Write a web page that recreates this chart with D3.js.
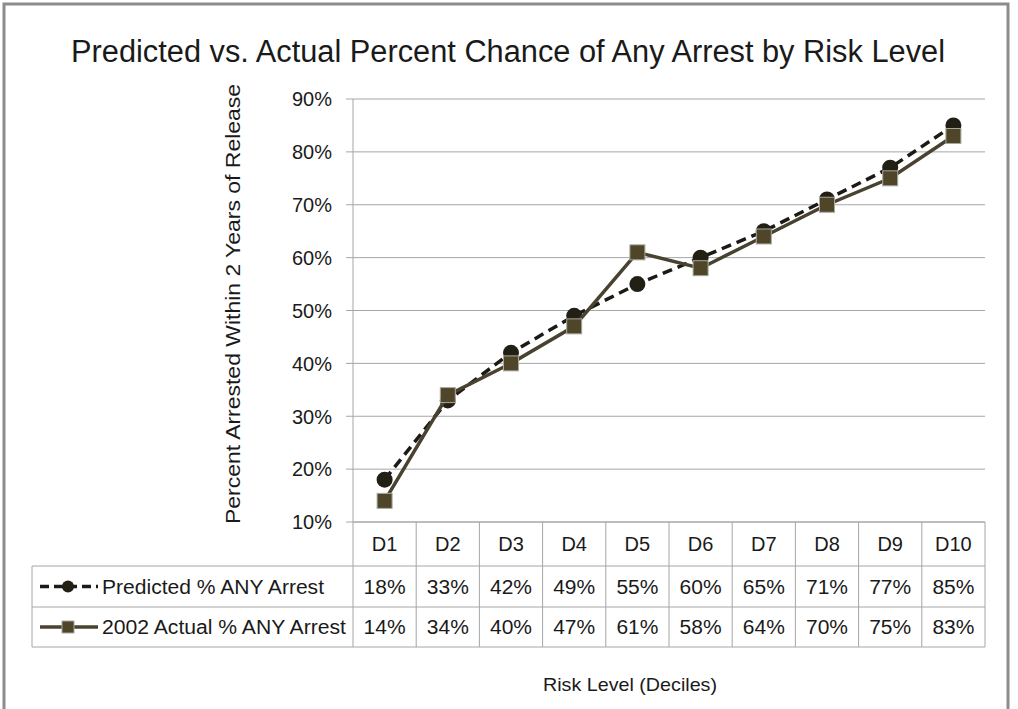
<!DOCTYPE html>
<html>
<head>
  <style>
    body{ margin:0; background:#fff; }
    text{ font-family: "Liberation Sans", Arial, sans-serif; fill:#1a1a1a; }
    .grid line{ stroke:#a6a6a6; stroke-width:1px; }
    .tbl line{ stroke:#a6a6a6; stroke-width:1px; }
  </style>
  <script src="https://d3js.org/d3.v7.min.js"></script>
</head>
<body>
<div class="chart"></div>
<script>
const categories = ['D1','D2','D3','D4','D5','D6','D7','D8','D9','D10'];
const predicted = [18, 33, 42, 49, 55, 60, 65, 71, 77, 85];
const actual = [14, 34, 40, 47, 61, 58, 64, 70, 75, 83];
const yTicks = [10, 20, 30, 40, 50, 60, 70, 80, 90];
const seriesNames = ['Predicted % ANY Arrest', '2002 Actual % ANY Arrest'];

const width = 1018, height = 709;
const plot = {left: 353, right: 985, top: 99, bottom: 522};
const rowH = [44, 41, 40];
const legendLeft = 32;

const svg = d3.select('.chart').append('svg')
  .attr('width', width).attr('height', height);

// outer frame
svg.append('rect')
  .attr('x', 4).attr('y', 4).attr('width', 1004).attr('height', 720)
  .attr('fill', 'none').attr('stroke', '#8c8c8c').attr('stroke-width', 3);

const x = d3.scaleBand().domain(categories).range([plot.left, plot.right]);
const y = d3.scaleLinear().domain([10, 90]).range([plot.bottom, plot.top]);

// title
svg.append('text')
  .attr('x', 508).attr('y', 62)
  .attr('text-anchor', 'middle')
  .attr('font-size', 31)
  .attr('textLength', 874).attr('lengthAdjust', 'spacingAndGlyphs')
  .text('Predicted vs. Actual Percent Chance of Any Arrest by Risk Level');

// gridlines
svg.append('g').attr('class', 'grid')
  .selectAll('line').data(yTicks).join('line')
  .attr('x1', plot.left - 7).attr('x2', plot.right)
  .attr('y1', d => y(d)).attr('y2', d => y(d));

// y axis line
svg.append('line')
  .attr('x1', plot.left).attr('x2', plot.left)
  .attr('y1', plot.top).attr('y2', plot.bottom)
  .attr('stroke', '#a6a6a6');

// tick labels
svg.append('g').selectAll('text').data(yTicks).join('text')
  .attr('x', 332).attr('y', d => y(d))
  .attr('dy', '0.35em')
  .attr('text-anchor', 'end')
  .attr('font-size', 21)
  .attr('textLength', 40).attr('lengthAdjust', 'spacingAndGlyphs')
  .text(d => d + '%');

// y axis title
svg.append('text')
  .attr('transform', 'translate(240,304) rotate(-90)')
  .attr('text-anchor', 'middle')
  .attr('font-size', 21)
  .attr('textLength', 440).attr('lengthAdjust', 'spacingAndGlyphs')
  .text('Percent Arrested Within 2 Years  of Release');

const cx = d => x(d) + x.bandwidth() / 2;

const line = d3.line()
  .x((d, i) => cx(categories[i]))
  .y(d => y(d));

// predicted (dashed, circles)
svg.append('path')
  .attr('d', line(predicted))
  .attr('fill', 'none').attr('stroke', '#1c1a14')
  .attr('stroke-width', 3.5).attr('stroke-dasharray', '10,6');

svg.append('g').selectAll('circle').data(predicted).join('circle')
  .attr('cx', (d, i) => cx(categories[i]))
  .attr('cy', d => y(d))
  .attr('r', 8)
  .attr('fill', '#221f15');

// actual (solid, squares)
svg.append('path')
  .attr('d', line(actual))
  .attr('fill', 'none').attr('stroke', '#4a4230')
  .attr('stroke-width', 3.5);

svg.append('g').selectAll('rect').data(actual).join('rect')
  .attr('x', (d, i) => cx(categories[i]) - 7.5)
  .attr('y', d => y(d) - 7.5)
  .attr('width', 15).attr('height', 15)
  .attr('fill', '#4f4629')
  .attr('stroke', '#a8a8a0').attr('stroke-width', 1);

// data table
const rowTop = [plot.bottom, plot.bottom + rowH[0], plot.bottom + rowH[0] + rowH[1]];
const tblBottom = rowTop[2] + rowH[2];
const tbl = svg.append('g').attr('class', 'tbl');

// horizontal lines
tbl.append('line').attr('x1', plot.left).attr('x2', plot.right)
  .attr('y1', rowTop[0]).attr('y2', rowTop[0]);
[rowTop[1], rowTop[2], tblBottom].forEach(yy => {
  tbl.append('line').attr('x1', legendLeft).attr('x2', plot.right)
    .attr('y1', yy).attr('y2', yy);
});
// vertical lines
tbl.append('line').attr('x1', legendLeft).attr('x2', legendLeft)
  .attr('y1', rowTop[1]).attr('y2', tblBottom);
tbl.selectAll('.vl').data(categories).join('line').attr('class', 'vl')
  .attr('x1', d => x(d)).attr('x2', d => x(d))
  .attr('y1', rowTop[0]).attr('y2', tblBottom);
tbl.append('line').attr('x1', plot.right).attr('x2', plot.right)
  .attr('y1', rowTop[0]).attr('y2', tblBottom);

// header
tbl.selectAll('.hd').data(categories).join('text').attr('class', 'hd')
  .attr('x', d => cx(d)).attr('y', rowTop[0] + rowH[0] / 2)
  .attr('dy', '0.35em').attr('text-anchor', 'middle')
  .attr('font-size', 20)
  .text(d => d);

[predicted, actual].forEach((vals, r) => {
  tbl.append('g').selectAll('text').data(vals).join('text')
    .attr('x', (d, i) => cx(categories[i]))
    .attr('y', rowTop[r + 1] + rowH[r + 1] / 2)
    .attr('dy', '0.35em').attr('text-anchor', 'middle')
    .attr('font-size', 20)
    .attr('textLength', 42).attr('lengthAdjust', 'spacingAndGlyphs')
    .text(d => d + '%');
});

// legend keys
const lg = svg.append('g');
const keyY = [rowTop[1] + rowH[1] / 2, rowTop[2] + rowH[2] / 2];
lg.append('line').attr('x1', 40).attr('x2', 98)
  .attr('y1', keyY[0]).attr('y2', keyY[0])
  .attr('stroke', '#1c1a14').attr('stroke-width', 3.5).attr('stroke-dasharray', '9,5');
lg.append('circle').attr('cx', 68).attr('cy', keyY[0]).attr('r', 6).attr('fill', '#221f15');
lg.append('line').attr('x1', 40).attr('x2', 98)
  .attr('y1', keyY[1]).attr('y2', keyY[1])
  .attr('stroke', '#4a4230').attr('stroke-width', 3.5);
lg.append('rect').attr('x', 62).attr('y', keyY[1] - 6).attr('width', 12).attr('height', 12)
  .attr('fill', '#4f4629').attr('stroke', '#a8a8a0');

lg.selectAll('text').data(seriesNames).join('text')
  .attr('x', 102).attr('y', (d, i) => keyY[i])
  .attr('dy', '0.35em')
  .attr('font-size', 20)
  .attr('textLength', (d, i) => i === 0 ? 222 : 244)
  .attr('lengthAdjust', 'spacingAndGlyphs')
  .text(d => d);

// x axis title
svg.append('text')
  .attr('x', 630).attr('y', 684)
  .attr('dy', '0.35em').attr('text-anchor', 'middle')
  .attr('font-size', 19)
  .attr('textLength', 174).attr('lengthAdjust', 'spacingAndGlyphs')
  .text('Risk Level (Deciles)');
</script>
</body>
</html>
